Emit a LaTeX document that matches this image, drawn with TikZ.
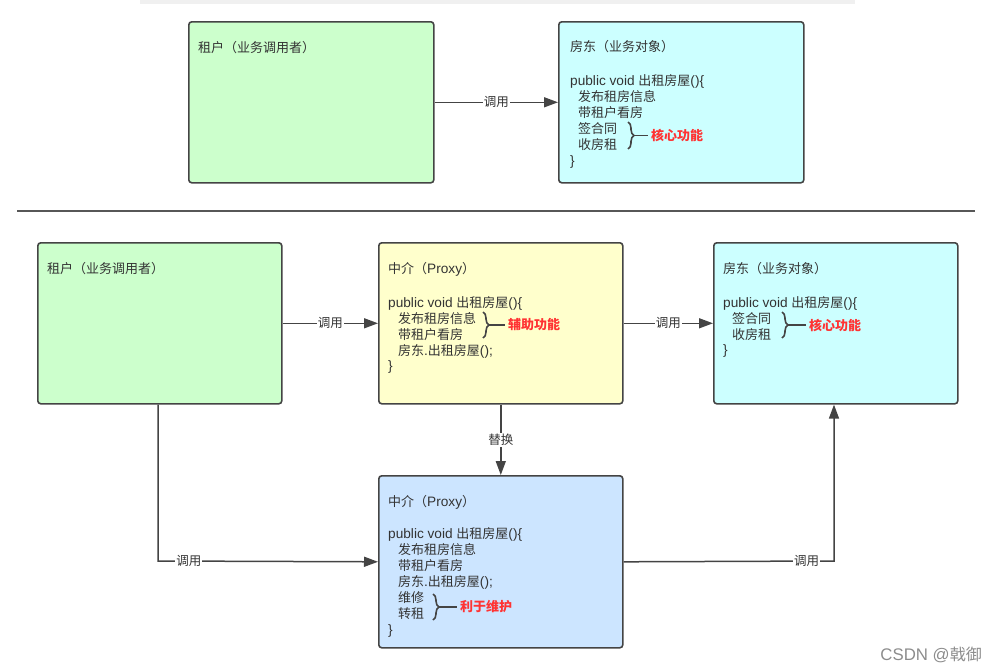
\documentclass[tikz,border=0pt]{standalone}
\usepackage{fontspec}
\setmainfont{Noto Sans CJK SC}
\newfontfamily\latf{Liberation Sans}[Scale=1.05]
\newcommand{\lat}[1]{{\latf #1}}
\usetikzlibrary{arrows.meta,decorations.pathreplacing}
\definecolor{greenfill}{RGB}{204,255,204}
\definecolor{cyanfill}{RGB}{204,255,255}
\definecolor{yellowfill}{RGB}{255,255,204}
\definecolor{bluefill}{RGB}{204,229,255}
\definecolor{boxline}{RGB}{68,68,68}
\definecolor{txtgray}{RGB}{51,51,51}
\definecolor{redtxt}{RGB}{255,51,51}
\definecolor{stripgray}{RGB}{240,240,240}
\definecolor{wmgray}{RGB}{140,140,140}
\tikzset{
  box/.style={draw=boxline, line width=1.6pt, rounded corners=3pt, inner sep=0pt, anchor=north west},
  txt/.style={anchor=base west, inner sep=0pt, text=txtgray, font=\fontsize{13}{16}\selectfont},
  red/.style={anchor=west, inner sep=0pt, text=redtxt, font=\fontsize{13}{16}\selectfont\bfseries},
  conn/.style={draw=boxline, line width=1.5pt, -{Triangle[length=14pt,width=10pt]}},
  plainconn/.style={draw=boxline, line width=1.5pt},
  lbl/.style={fill=white, inner sep=1pt, text=txtgray, font=\fontsize{12.5}{14}\selectfont},
  bracestyle/.style={draw=boxline, line width=1.6pt, decorate, decoration={brace, amplitude=6pt}},
}
\begin{document}
\begin{tikzpicture}[x=1pt,y=-1pt]
\useasboundingbox (0,0) rectangle (996,672);
\fill[stripgray] (140,0) rectangle (855,4);

% ---------- top part ----------
\node[box, fill=greenfill, minimum width=245pt, minimum height=161pt] (a1) at (188,21) {};
\node[box, fill=cyanfill, minimum width=245pt, minimum height=161pt] (a2) at (558,21) {};
\node[txt] (a1t) at (198,52) {租户（业务调用者）};
\node[txt] (a2t) at (570,51.5) {房东（业务对象）};
\node[txt] (a2l1) at (570,85) {\lat{public void }出租房屋\lat{()\{}};
\node[txt] (a2l2) at (578,101) {发布租房信息};
\node[txt] (a2l3) at (578,117) {带租户看房};
\node[txt] (a2l4) at (578,133) {签合同};
\node[txt] (a2l5) at (578,149) {收房租};
\node[txt] (a2l6) at (570,165) {\lat{\}}};
\draw[bracestyle] (628,122) -- (628,149);
\draw[plainconn] (634,135.5) -- (648,135.5);
\node[red] (a2r) at (651,135.5) {核心功能};
\draw[conn] (a1.east) -- node[lbl] (la) {调用} (a2.west);

% separator
\draw[boxline!90, line width=2pt] (17,211) -- (975,211);

% ---------- bottom part ----------
\node[box, fill=greenfill, minimum width=244pt, minimum height=161pt] (b1) at (37,242) {};
\node[box, fill=yellowfill, minimum width=244pt, minimum height=161pt] (b2) at (378,242) {};
\node[box, fill=cyanfill, minimum width=244pt, minimum height=161pt] (b3) at (713,242) {};
\node[box, fill=bluefill, minimum width=244pt, minimum height=172pt] (b4) at (378,475) {};

\node[txt] (b1t) at (47,273) {租户（业务调用者）};

\node[txt] (b2t) at (388,273) {中介（\lat{Proxy}）};
\node[txt] (b2l1) at (388,307) {\lat{public void }出租房屋\lat{()\{}};
\node[txt] (b2l2) at (398,323) {发布租房信息};
\node[txt] (b2l3) at (398,339) {带租户看房};
\node[txt] (b2l4) at (398,355) {房东\lat{.}出租房屋\lat{();}};
\node[txt] (b2l5) at (388,370) {\lat{\}}};
\draw[bracestyle] (483,312) -- (483,338);
\draw[plainconn] (489,325) -- (505,325);
\node[red] (b2r) at (508,325) {辅助功能};

\node[txt] (b3t) at (723,273) {房东（业务对象）};
\node[txt] (b3l1) at (723,307) {\lat{public void }出租房屋\lat{()\{}};
\node[txt] (b3l2) at (732,323) {签合同};
\node[txt] (b3l3) at (732,339) {收房租};
\node[txt] (b3l4) at (723,354) {\lat{\}}};
\draw[bracestyle] (782,312) -- (782,338);
\draw[plainconn] (788,325) -- (806,325);
\node[red] (b3r) at (809,325) {核心功能};

\node[txt] (b4t) at (388,506) {中介（\lat{Proxy}）};
\node[txt] (b4l1) at (388,538) {\lat{public void }出租房屋\lat{()\{}};
\node[txt] (b4l2) at (398,554) {发布租房信息};
\node[txt] (b4l3) at (398,570) {带租户看房};
\node[txt] (b4l4) at (398,586) {房东\lat{.}出租房屋\lat{();}};
\node[txt] (b4l5) at (398,602) {维修};
\node[txt] (b4l6) at (398,618) {转租};
\node[txt] (b4l7) at (388,634) {\lat{\}}};
\draw[bracestyle] (433,594) -- (433,620);
\draw[plainconn] (439,607) -- (457,607);
\node[red] (b4r) at (460,607) {利于维护};

% connectors
\draw[conn] (b1.east) -- node[lbl] (lb1) {调用} (b2.west);
\draw[conn] (b2.east) -- node[lbl] (lb2) {调用} (b3.west);
\draw[conn] (b2.south) -- node[lbl] (lb3) {替换} (b4.north);
\coordinate (c1) at (158,561);
\draw[conn] (b1.south -| c1) -- (c1) -- node[lbl, pos=0.14] (lb4) {调用} (b4.west);
\coordinate (c2) at (834,561);
\draw[conn] (b4.east) -- node[lbl, pos=0.87] (lb5) {调用} (c2) -- (b3.south -| c2);

% watermark
\node[anchor=east, inner sep=0pt, text=wmgray, font=\fontsize{16}{18}\selectfont] (wm) at (982,655) {\lat{CSDN @}戟御};
\end{tikzpicture}
\end{document}
